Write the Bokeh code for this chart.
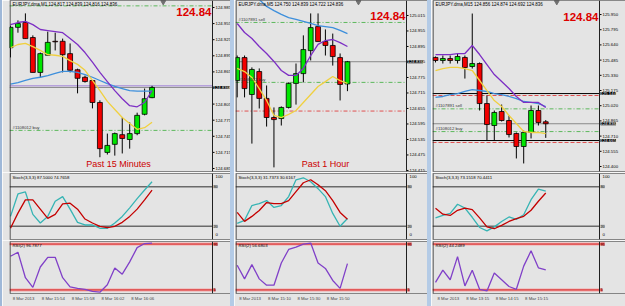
import numpy as np
from bokeh.plotting import figure
from bokeh.models import Range1d, FixedTicker, Span, Label, Div
from bokeh.layouts import row, column
from bokeh.core.properties import value
from bokeh.embed import file_html
from bokeh.resources import INLINE

NaN = float("nan")

# ---------------- common data ----------------
symbol = "EURJPY.dma"
big_quote = "124.84"
buy_order = "#1108012 buy"
buy_price = 124.756
sell_order = "#1107891 sell"
sell_price = 124.988
current_price = 124.836
alert_price = 124.839
support_line = 124.665
support_stop = 124.645
resist_line = 125.144
resist_stop = 125.124
stoch_levels = [80, 20]
rsi_levels = [95, 5]

# ---------------- panel 1 : M1 ----------------
tf1 = "M1"
title1 = "Past 15 Minutes"
open1 = [124.910, 124.948, 124.957, 124.929, 124.864, 124.896, 124.922, 124.922, 124.899, 124.869,
         124.855, 124.849, 124.808, 124.715, 124.730, 124.748, 124.739, 124.750, 124.786, 124.817]
high1 = [124.951, 124.961, 124.974, 124.933, 124.901, 124.940, 124.938, 124.927, 124.918, 124.871,
         124.858, 124.849, 124.812, 124.750, 124.752, 124.780, 124.771, 124.789, 124.834, 124.839]
low1 = [124.892, 124.938, 124.927, 124.864, 124.855, 124.896, 124.905, 124.864, 124.864, 124.825,
        124.845, 124.797, 124.706, 124.711, 124.709, 124.713, 124.722, 124.747, 124.784, 124.816]
close1 = [124.948, 124.955, 124.927, 124.864, 124.899, 124.920, 124.921, 124.897, 124.868, 124.853,
          124.847, 124.808, 124.722, 124.728, 124.750, 124.741, 124.750, 124.784, 124.815, 124.836]
purple1 = [124.953, 124.957, 124.959, 124.953, 124.944, 124.942, 124.940, 124.938, 124.927, 124.916,
           124.901, 124.883, 124.864, 124.847, 124.830, 124.815, 124.802, 124.800, 124.808, 124.830]
yellow1 = [124.910, 124.916, 124.918, 124.912, 124.905, 124.897, 124.896, 124.894, 124.886, 124.879,
           124.868, 124.849, 124.830, 124.810, 124.795, 124.780, 124.769, 124.758, 124.761, 124.771]
blue1 = [124.842, 124.845, 124.849, 124.853, 124.855, 124.858, 124.862, 124.866, 124.866, 124.864,
         124.860, 124.855, 124.849, 124.843, 124.838, 124.834, 124.830, 124.829, 124.829, 124.829]
stoch_k1 = [35, 69, 72, 38, 25, 35, 58, 65, 46, 26, 22, 22, 17, 17, 25, 35, 48, 62, 75, 87.5]
stoch_d1 = [17, 40, 60, 60, 46, 32, 38, 54, 55, 46, 31, 25, 20, 18, 20, 26, 35, 46, 60, 74.7658]
rsi1 = [71, 79, 29, 10, 50, 69, 69, 29, 11, 8, 6, 2, 0.5, 15, 48, 36, 60, 88, 96, 96.7877]
price_ticks1 = [124.685, 124.715, 124.745, 124.775, 124.805, 124.835, 124.865, 124.895, 124.925, 124.955, 124.985]
date_labels1 = ["8 Mar 2013", "8 Mar 15:54", "8 Mar 15:58", "8 Mar 16:02", "8 Mar 16:06"]
date_index1 = [0, 4, 8, 12, 16]

# ---------------- panel 2 : M5 ----------------
tf2 = "M5"
title2 = "Past 1 Hour"
open2 = [124.763, 124.852, 124.709, 124.798, 124.694, 124.620, 124.616, 124.659, 124.752, 124.790,
         124.879, 124.972, 124.914, 124.899, 124.852, 124.750]
high2 = [124.860, 124.860, 124.814, 124.810, 124.744, 124.659, 124.663, 124.756, 124.829, 124.938,
         125.023, 125.023, 124.961, 124.945, 124.868, 124.839]
low2 = [124.698, 124.698, 124.519, 124.655, 124.585, 124.427, 124.589, 124.655, 124.670, 124.756,
        124.841, 124.914, 124.860, 124.821, 124.686, 124.722]
close2 = [124.852, 124.732, 124.806, 124.694, 124.620, 124.612, 124.659, 124.752, 124.790, 124.883,
          124.968, 124.914, 124.899, 124.856, 124.748, 124.836]
purple2 = [124.984, 124.949, 124.926, 124.895, 124.868, 124.837, 124.802, 124.783, 124.783, 124.810,
           124.860, 124.903, 124.918, 124.922, 124.910, 124.895]
yellow2 = [124.810, 124.798, 124.775, 124.732, 124.686, 124.628, 124.620, 124.632, 124.647, 124.678,
           124.709, 124.740, 124.759, 124.779, 124.763, 124.752]
blue2 = [NaN, NaN, NaN, 125.077, 125.050, 125.034, 125.019, 125.007, 125.000, 124.992,
         124.984, 124.976, 124.972, 124.968, 124.957, 124.945]
stoch_k2 = [24.5, 29, 51.5, 54.5, 59, 48.5, 51.5, 65, 90.5, 93.5, 87.5, 77, 65, 39.5, 20, 31.7373]
stoch_d2 = [41, 27.5, 35, 44, 56, 54.5, 54.5, 59, 72.5, 86, 90.5, 83, 74, 59, 41, 30.6167]
rsi2 = [53.4, 26.7, 54.7, 26.7, 14.3, 14.3, 57.8, 84.4, 88.8, 95, 96.9, 57.8, 47.2, 23.6, 8.1, 56.6803]
price_ticks2 = [124.415, 124.475, 124.535, 124.595, 124.655, 124.715, 124.775, 124.835, 124.895, 124.955, 125.015]
date_labels2 = ["8 Mar 2013", "8 Mar 15:10", "8 Mar 15:30", "8 Mar 15:50"]
date_index2 = [0, 4, 8, 12]

# ---------------- panel 3 : M15 ----------------
tf3 = "M15"
open3 = [125.512, 125.481, 125.501, 125.481, 125.512, 125.420, 125.450, 125.042, 124.818, 124.961,
         124.869, 124.737, 124.604, 124.747, 124.971, 124.856]
high3 = [125.522, 125.532, 125.532, 125.552, 125.532, 125.960, 125.461, 125.124, 124.971, 125.032,
         124.920, 124.747, 124.767, 125.022, 125.022, 124.874]
low3 = [125.461, 125.450, 125.450, 125.450, 125.297, 125.399, 124.971, 124.665, 124.665, 124.859,
        124.696, 124.482, 124.431, 124.686, 124.818, 124.692]
close3 = [125.481, 125.501, 125.481, 125.522, 125.410, 125.450, 125.042, 124.828, 124.951, 124.869,
          124.726, 124.604, 124.747, 124.971, 124.849, 124.836]
purple3 = [125.542, 125.542, 125.542, 125.552, 125.552, 125.634, 125.542, 125.440, 125.338, 125.267,
           125.195, 125.114, 125.053, 125.053, 125.053, 125.002]
yellow3 = [125.379, 125.399, 125.410, 125.410, 125.399, 125.379, 125.277, 125.175, 125.073, 125.012,
           124.920, 124.838, 124.757, 124.747, 124.747, 124.736]
blue3 = [125.104, 125.114, 125.134, 125.144, 125.165, 125.185, 125.175, 125.165, 125.144, 125.134,
         125.114, 125.093, 125.063, 125.053, 125.042, 125.012]
stoch_k3 = [32.8, 36.5, 39.7, 53.4, 47.5, 33.7, 18.2, 13.1, 19.1, 27.3, 34.2, 30.5, 37.4, 60.3, 76.3, 73.1518]
stoch_d3 = [47.5, 38.3, 36.5, 44.3, 47.5, 45.2, 32.8, 19.1, 16.3, 21.4, 27.3, 31.5, 35.1, 44.3, 58, 70.4411]
rsi3 = [19.7, 43.7, 25, 70.3, 13, 43.7, 6.3, 3, 38.3, 25, 11.7, 6.3, 51.7, 81.7, 48.3, 44.2489]
price_ticks3 = [124.400, 124.555, 124.710, 124.865, 125.020, 125.175, 125.330, 125.485, 125.640, 125.795, 125.950]
date_labels3 = ["8 Mar 2013", "8 Mar 13:15", "8 Mar 14:15", "8 Mar 15:15"]
date_index3 = [0, 4, 8, 12]

# ---------------- styling / layout ----------------
FONT = "Liberation Sans"
BG = "#e4e4e4"
UP = "#00e600"
DN = "#f20000"
C_PURPLE = "#7d2fc4"
C_YELLOW = "#f0d040"
C_BLUE = "#3d8fdc"
C_TEAL = "#36b4b4"
C_SIG = "#c40000"
C_RSI = "#8040c8"
C_GREEN_DASH = "#5cb85c"
C_RED_DASH = "#e05050"
EDGE = "#202020"
MAIN_H = 171
STOCH_H = 66
RSI_H = 52


def make_fig(W, H, xr, yr, left, top, bottom, xloc=None):
    p = figure(width=W, height=H, x_range=xr, y_range=yr,
               min_border_left=left, min_border_right=0,
               min_border_top=top, min_border_bottom=bottom,
               x_axis_location=xloc, y_axis_location=None,
               toolbar_location=None, output_backend="svg",
               background_fill_color=BG, border_fill_color=BG,
               outline_line_color=None)
    p.grid.visible = False
    return p


def lab(p, x, y, text, size="4.5px", color="black", align="left",
        baseline="middle", style="normal", bg=None):
    p.add_layout(Label(x=x, y=y, text=text, text_font=FONT, text_font_size=size,
                       text_color=color, text_align=align, text_baseline=baseline,
                       text_font_style=style, background_fill_color=bg))


def frame_edges(p, x_left, x_right, y_lo, y_hi):
    p.add_layout(Span(location=x_left, dimension="height", line_color=EDGE, line_width=1))
    p.add_layout(Span(location=x_right, dimension="height", line_color=EDGE, line_width=1))
    p.add_layout(Span(location=y_lo, dimension="width", line_color=EDGE, line_width=1))
    p.add_layout(Span(location=y_hi, dimension="width", line_color=EDGE, line_width=1))


def build(P):
    fw, left, right, lead, step = P["fw"], P["left"], P["right"], P["lead"], P["step"]
    W = left + fw + right
    xs = -lead / step
    X = lambda px: xs + px / step            # px measured from chart left edge
    xr = Range1d(xs, X(fw + right))
    xc = X(fw)                                # chart right edge (price scale starts here)
    ys, ye = P["ylo"], P["yhi"]
    Y = lambda px: ye - px * (ye - ys) / MAIN_H

    o = np.array(P["open"]); h = np.array(P["high"])
    l = np.array(P["low"]); c = np.array(P["close"])
    n = len(o)
    idx = np.arange(n)

    # ---------- main price window ----------
    pm = make_fig(W, 172, xr, Range1d(ys, ye), left, 0, 1)
    for v, col, dash in P["lines"]:
        pm.segment(x0=[xs], x1=[xc], y0=[v], y1=[v], line_color=col, line_dash=dash, line_width=1)
    for txt, v in P["order_labels"]:
        lab(pm, X(3), v + 3 * (ye - ys) / MAIN_H, txt, size="4.3px", color="#333333")

    pm.segment(idx, h, idx, l, line_color="black", line_width=1)
    inc = c >= o
    pm.vbar(x=idx[inc], width=0.66, bottom=o[inc], top=c[inc],
            fill_color=UP, line_color="black", line_width=0.8)
    pm.vbar(x=idx[~inc], width=0.66, bottom=c[~inc], top=o[~inc],
            fill_color=DN, line_color="black", line_width=0.8)

    pm.line(idx, P["blue"], line_color=C_BLUE, line_width=1.3)
    pm.line(idx, P["purple"], line_color=C_PURPLE, line_width=1.3)
    pm.line(idx, P["yellow"], line_color=C_YELLOW, line_width=1.3)

    pm.scatter([n + 0.5], [Y(1.5)], marker="inverted_triangle", size=5,
               fill_color="#707070", line_color="#707070")

    # price scale (right of chart)
    ticks = P["ticks"]
    pm.segment(x0=[xc] * len(ticks), x1=[X(fw + 2)] * len(ticks), y0=ticks, y1=ticks,
               line_color="black", line_width=1)
    pm.text(x=[X(fw + 3)] * len(ticks), y=ticks, text=["%.3f" % t for t in ticks],
            text_font=value(FONT), text_font_size=value("4.3px"), text_color="black",
            text_baseline="middle", text_align="left")
    for v in P["boxes"]:
        lab(pm, X(fw + 1), v, "%.3f" % v, size="4.3px", color="white", bg="black")

    frame_edges(pm, X(0.5), xc, ys, ye)

    header = "%s,%s  %.3f %.3f %.3f %.3f" % (symbol, P["tf"], o[-1], h[-1], l[-1], c[-1])
    lab(pm, X(3), Y(4), header, size="4.5px")
    lab(pm, X(fw - 1), Y(P["big_y"]), big_quote, size="11.5px", color="#dd0000",
        align="right", baseline="alphabetic", style="bold")
    if P["title"]:
        lab(pm, X(P["title_x"]), Y(163), P["title"], size="9px", color="#cc0000",
            align="center", baseline="alphabetic")

    # ---------- stochastic window ----------
    ps = make_fig(W, 68, xr, Range1d(0, 100), left, 1, 1)
    for v in stoch_levels:
        ps.segment(x0=[xs], x1=[xc], y0=[v], y1=[v], line_color="#6a6a6a", line_width=1.5)
    ps.line(idx, P["k"], line_color=C_TEAL, line_width=1.3)
    ps.line(idx, P["d"], line_color=C_SIG, line_width=1.3)
    frame_edges(ps, X(0.5), xc, 0, 100)
    SY = lambda px: 100 - px * 100 / STOCH_H
    lab(ps, X(3), SY(4), "Stoch(3,3,3) %.4f %.4f" % (P["k"][-1], P["d"][-1]), size="4.3px")
    lab(ps, X(fw + 3), SY(3), "100", size="4.3px")
    lab(ps, X(fw + 3), SY(61), "0", size="4.3px")
    for v in stoch_levels:
        lab(ps, X(fw + 1), v, str(v), size="3.8px", color="#333333", bg="#a8a8a8")

    # ---------- RSI window ----------
    pr = make_fig(W, 66, xr, Range1d(-2, 100), left, 1, 13, "below")
    for v in rsi_levels:
        pr.segment(x0=[xs], x1=[X(fw + 1)], y0=[v], y1=[v], line_color="#f3a8a8", line_width=3)
        pr.segment(x0=[xs], x1=[X(fw + 1)], y0=[v], y1=[v], line_color="#d42020", line_width=1)
    pr.line(idx, P["rsi"], line_color=C_RSI, line_width=1.3)
    frame_edges(pr, X(0.5), xc, -2, 100)
    RY = lambda px: 100 - px * 102 / RSI_H
    lab(pr, X(3), RY(4), "RSI(2) %.4f" % P["rsi"][-1], size="4.3px")
    for v in rsi_levels:
        lab(pr, X(fw + 1), v, str(v), size="3.8px", color="#500000", bg="#e04848")
    xa = pr.xaxis[0]
    dticks = [i + 1.75 for i in P["date_index"]]
    xa.ticker = FixedTicker(ticks=dticks)
    xa.major_label_overrides = {t: s for t, s in zip(dticks, P["dates"])}
    xa.major_label_text_font = FONT
    xa.major_label_text_font_size = "4.3px"
    xa.major_tick_out = 0
    xa.major_tick_in = 0
    xa.minor_tick_out = 0
    xa.minor_tick_in = 0
    xa.major_label_standoff = 2
    xa.axis_line_color = None
    return column(pm, ps, pr, spacing=0)


P1 = dict(tf=tf1, title=title1, open=open1, high=high1, low=low1, close=close1,
          purple=purple1, yellow=yellow1, blue=blue1, k=stoch_k1, d=stoch_d1, rsi=rsi1,
          ticks=price_ticks1, dates=date_labels1, date_index=date_index1,
          fw=203, left=7, right=18, lead=1.0, step=7.45, ylo=124.6794, yhi=124.998,
          big_y=11, title_x=109,
          lines=[(sell_price, C_GREEN_DASH, "4 2 1 2"), (buy_price, C_GREEN_DASH, "4 2 1 2"),
                 (alert_price, "#a080d8", "solid"), (current_price, "#8a8a8a", "solid")],
          order_labels=[(buy_order, buy_price)],
          boxes=[current_price])

P2 = dict(tf=tf2, title=title2, open=open2, high=high2, low=low2, close=close2,
          purple=purple2, yellow=yellow2, blue=blue2, k=stoch_k2, d=stoch_d2, rsi=rsi2,
          ticks=price_ticks2, dates=date_labels2, date_index=date_index2,
          fw=171, left=1, right=21, lead=1.7, step=7.35, ylo=124.411, yhi=125.073,
          big_y=15, title_x=90,
          lines=[(sell_price, C_GREEN_DASH, "4 2 1 2"), (buy_price, C_GREEN_DASH, "4 2 1 2"),
                 (support_stop, C_RED_DASH, "4 2 1 2"), (current_price, "#8a8a8a", "solid")],
          order_labels=[(sell_order, sell_price), (buy_order, buy_price)],
          boxes=[current_price])

P3 = dict(tf=tf3, title=None, open=open3, high=high3, low=low3, close=close3,
          purple=purple3, yellow=yellow3, blue=blue3, k=stoch_k3, d=stoch_d3, rsi=rsi3,
          ticks=price_ticks3, dates=date_labels3, date_index=date_index3,
          fw=167, left=1, right=26, lead=3.0, step=7.35, ylo=124.349, yhi=126.093,
          big_y=16, title_x=80,
          lines=[(resist_line, "black", "solid"), (resist_stop, C_RED_DASH, "4 2"),
                 (sell_price, C_GREEN_DASH, "4 2 1 2"), (current_price, "#8a8a8a", "solid"),
                 (buy_price, C_GREEN_DASH, "4 2 1 2"),
                 (support_line, "black", "solid"), (support_stop, C_RED_DASH, "4 2")],
          order_labels=[(sell_order, sell_price), (buy_order, buy_price)],
          boxes=[resist_line, current_price, support_line])


def sep(w, color):
    return Div(width=w, height=306, styles={"background-color": color}, margin=0)


layout = row(sep(2, "#9fb8d8"), build(P1), sep(4, "#b4cbe6"), build(P2),
             sep(4, "#b4cbe6"), build(P3), spacing=0)

open("out.html", "w").write(file_html(layout, INLINE))
